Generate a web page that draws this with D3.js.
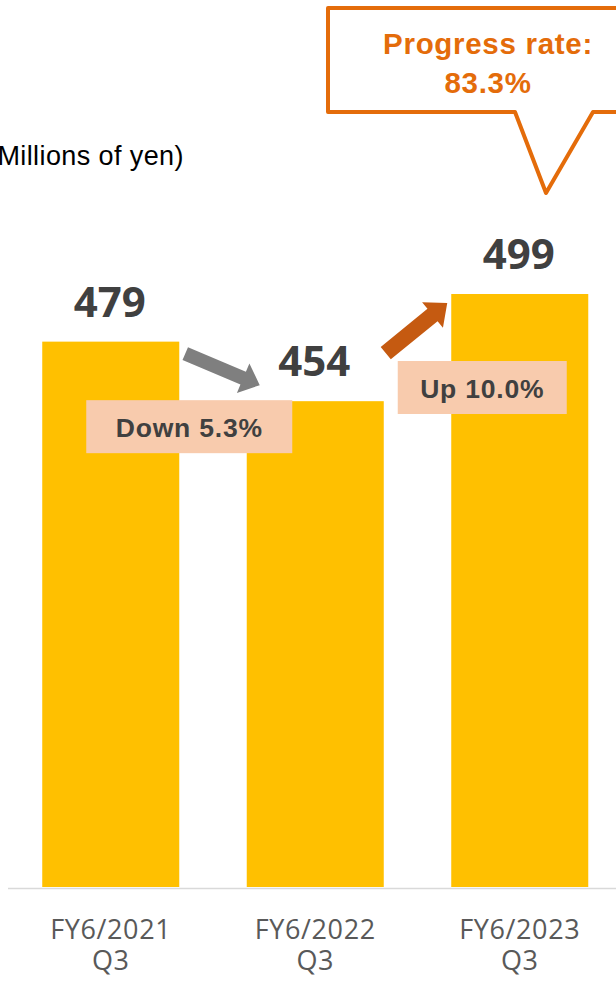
<!DOCTYPE html>
<html>
<head>
<meta charset="utf-8">
<script src="https://cdn.jsdelivr.net/npm/d3@7/dist/d3.min.js"></script>
<style>
  html, body { margin: 0; padding: 0; background: #fff; }
  svg { display: block; }
</style>
</head>
<body>
<svg id="chart" width="616" height="981"></svg>
<script>
// Quarterly results, Q3 cumulative (millions of yen)
const categories = ["FY6/2021", "FY6/2022", "FY6/2023"];
const periodLabels = ["Q3", "Q3", "Q3"];
const values = [479, 454, 499];
const changeLabels = ["Down 5.3%", "Up 10.0%"];
const progressLabel = ["Progress rate:", "83.3%"];
const unitLabel = "(Millions of yen)";

const svg = d3.select("#chart");
const W = 616, H = 981;
const baseY = 887;

const x = d3.scaleBand()
  .domain(categories)
  .range([8.5, 622])
  .paddingInner(0.33)
  .paddingOuter(0.165);

// value axis starts at 250, not zero
const y = d3.scaleLinear()
  .domain([250, 520])
  .range([baseY, baseY - 270 * 2.3815]);

const bw = x.bandwidth();

// bars
svg.append("g").selectAll("rect")
  .data(values)
  .join("rect")
  .attr("x", (d, i) => x(categories[i]))
  .attr("y", d => y(d))
  .attr("width", bw)
  .attr("height", d => baseY - y(d))
  .attr("fill", "#FFC000");

// category axis
const axis = svg.append("g")
  .attr("transform", `translate(0,${baseY + 1.5})`)
  .call(d3.axisBottom(x).tickSize(0).tickSizeOuter(0));
axis.select(".domain")
  .attr("stroke", "#D9D9D9")
  .attr("stroke-width", 1.6)
  .attr("d", `M8,0H${W}`);
axis.selectAll(".tick text").each(function (d, i) {
  const t = d3.select(this)
    .attr("y", null).attr("dy", null)
    .attr("fill", "#595959")
    .attr("font-family", "'Open Sans', sans-serif")
    .attr("font-size", 27)
    .attr("letter-spacing", 0.6)
    .attr("text-anchor", "middle")
    .text(null);
  t.append("tspan").attr("x", 0).attr("y", 50).text(d);
  t.append("tspan").attr("x", 0).attr("y", 81).text(periodLabels[i]);
});

// value labels
svg.append("g").selectAll("text")
  .data(values)
  .join("text")
  .attr("x", (d, i) => x(categories[i]) + bw / 2 - 1)
  .attr("y", d => y(d) - 25)
  .attr("text-anchor", "middle")
  .attr("font-family", "'Open Sans', sans-serif")
  .attr("font-weight", 700)
  .attr("font-size", 42)
  .attr("fill", "#404040")
  .text(d => d);

// block arrow from (x0,y0) to tip (x1,y1)
function arrowPath(x0, y0, x1, y1, shaft, headLen, headW) {
  const dx = x1 - x0, dy = y1 - y0;
  const len = Math.hypot(dx, dy);
  const ux = dx / len, uy = dy / len;
  const nx = -uy, ny = ux;
  const bx = x1 - ux * headLen, by = y1 - uy * headLen;
  const s = shaft / 2, h = headW / 2;
  const pts = [
    [x0 + nx * s, y0 + ny * s],
    [bx + nx * s, by + ny * s],
    [bx + nx * h, by + ny * h],
    [x1, y1],
    [bx - nx * h, by - ny * h],
    [bx - nx * s, by - ny * s],
    [x0 - nx * s, y0 - ny * s]
  ];
  return "M" + pts.map(p => p.join(",")).join("L") + "Z";
}

const x0 = x(categories[0]), x1 = x(categories[1]), x2 = x(categories[2]);

// decrease arrow
svg.append("path")
  .attr("d", arrowPath(x0 + bw + 6, y(values[0]) + 12, x1 + 13, y(values[1]) - 16, 14, 18, 32))
  .attr("fill", "#7F7F7F");

// increase arrow
svg.append("path")
  .attr("d", arrowPath(x1 + bw + 2, y(values[1]) - 48, x2 - 4, y(values[2]) + 9, 16, 19, 33))
  .attr("fill", "#C55A11");

// change boxes
const boxes = [
  { cx: x0 + bw + 10, top: y(values[1]) - 1, w: 206, label: changeLabels[0] },
  { cx: x2 + 31, top: y(values[2]) + 67, w: 169, label: changeLabels[1] }
];
const bg = svg.append("g").selectAll("g").data(boxes).join("g");
bg.append("rect")
  .attr("x", d => d.cx - d.w / 2)
  .attr("y", d => d.top)
  .attr("width", d => d.w)
  .attr("height", 53)
  .attr("fill", "#F8CBAD");
bg.append("text")
  .attr("x", d => d.cx)
  .attr("y", d => d.top + 37)
  .attr("text-anchor", "middle")
  .attr("font-family", "'Liberation Sans', Arial, sans-serif")
  .attr("font-weight", 700)
  .attr("font-size", 26.5)
  .attr("letter-spacing", 0.8)
  .attr("fill", "#404040")
  .text(d => d.label);

// progress-rate callout
const orange = "#E46C0A";
svg.append("path")
  .attr("d", "M328,8H630V112H593L546,193L515,112H328Z")
  .attr("fill", "#fff")
  .attr("stroke", orange)
  .attr("stroke-width", 4)
  .attr("stroke-linejoin", "round");
svg.append("g").selectAll("text")
  .data(progressLabel)
  .join("text")
  .attr("x", 488)
  .attr("y", (d, i) => 54 + i * 38.5)
  .attr("text-anchor", "middle")
  .attr("font-family", "'Liberation Sans', Arial, sans-serif")
  .attr("font-weight", 700)
  .attr("font-size", 29.5)
  .attr("letter-spacing", 0.7)
  .attr("fill", orange)
  .text(d => d);

// unit label
svg.append("text")
  .attr("x", -12)
  .attr("y", 165)
  .attr("font-family", "'Liberation Sans', Arial, sans-serif")
  .attr("font-size", 27)
  .attr("letter-spacing", 0.4)
  .attr("fill", "#000")
  .text(unitLabel);
</script>
</body>
</html>
